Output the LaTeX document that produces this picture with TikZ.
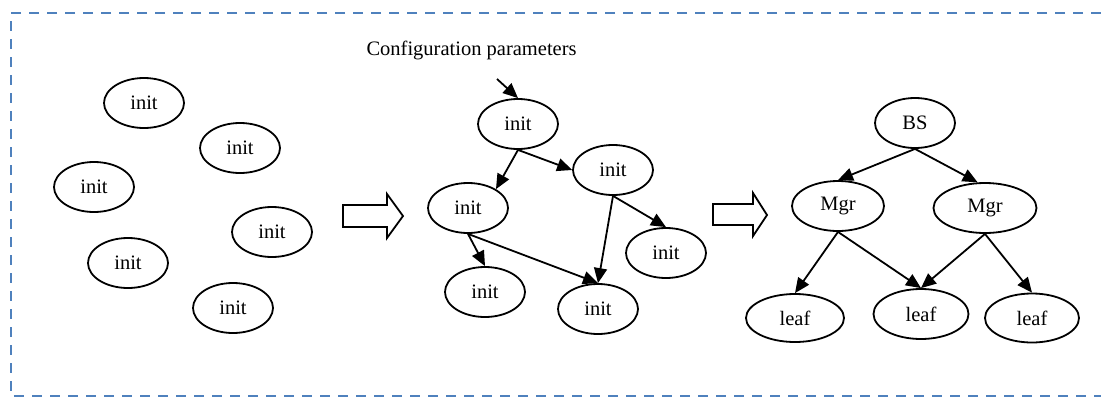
\documentclass[tikz,border=0pt]{standalone}
\usepackage{fontspec}
\setmainfont{Liberation Serif}
\usetikzlibrary{shapes.geometric,arrows.meta}
\definecolor{framecol}{RGB}{79,129,189}
\begin{document}
\begin{tikzpicture}[x=1pt,y=-1pt,
  txt/.style={font=\fontsize{20.5}{24}\selectfont},
  bub/.style={ellipse,draw,line width=1.8pt,inner sep=0pt,
    minimum width=80pt,minimum height=50pt,txt},
  link/.style={line width=1.8pt,-{Triangle[length=15pt,width=13pt]}},
  fat/.style={draw,line width=1.8pt,fill=white,line join=miter}]
\useasboundingbox (0,0) rectangle (1101,397);

% dashed frame, open on the right
\draw[framecol,line width=2.4pt,dash pattern=on 10pt off 8pt]
  (1101,13) -- (11,13) -- (11,396) -- (1101,396);

% scattered nodes before configuration
\node[bub] (a1) at (144,103) {init};
\node[bub] (a2) at (240,148) {init};
\node[bub] (a3) at (94,187) {init};
\node[bub] (a4) at (272,232) {init};
\node[bub] (a5) at (128,263) {init};
\node[bub] (a6) at (233,308) {init};

% transition arrows
\draw[fat] (343,205) -- (387,205) -- (387,194) -- (403,216) -- (387,238) -- (387,227) -- (343,227) -- cycle;
\draw[fat] (713,204) -- (753,204) -- (753,193) -- (767,215) -- (753,236) -- (753,225) -- (713,225) -- cycle;

% configuration spreading through the network
\node[txt,anchor=base west] (cfgtxt) at (363,55) {Configuration parameters};
\coordinate (cfg) at (497,79);
\node[bub] (t)  at (518,124) {init};
\node[bub] (r)  at (613,170) {init};
\node[bub] (l)  at (468,208) {init};
\node[bub] (fr) at (666,253) {init};
\node[bub] (bl) at (485,292) {init};
\node[bub] (bm) at (598,309) {init};

\draw[link] (cfg) -- (t.north);
\draw[link] (t.south) -- (l.34);
\draw[link] (t.south) -- (r.west);
\draw[link] (r.south) -- (bm.north);
\draw[link] (r.south) -- (fr.north);
\draw[link] (l.south) -- (bl.north);
\draw[link] (l.south) -- (bm.north);

% resulting hierarchy
\node[bub] (bs) at (915,123) {BS};
\node[bub,minimum width=92pt] (mL) at (838,206) {Mgr};
\node[bub,minimum width=103pt] (mR) at (985,208) {Mgr};
\node[bub,minimum width=98pt,minimum height=48pt] (lL) at (795,318) {leaf};
\node[bub,minimum width=95pt] (lM) at (921,314) {leaf};
\node[bub,minimum width=94pt,minimum height=49pt] (lR) at (1032,318) {leaf};

\draw[link] (bs.south) -- (mL.north);
\draw[link] (bs.south) -- (mR.106);
\draw[link] (mL.south) -- (lL.north);
\draw[link] (mL.south) -- (lM.north);
\draw[link] (mR.south) -- (lM.north);
\draw[link] (mR.south) -- (lR.north);
\end{tikzpicture}
\end{document}
